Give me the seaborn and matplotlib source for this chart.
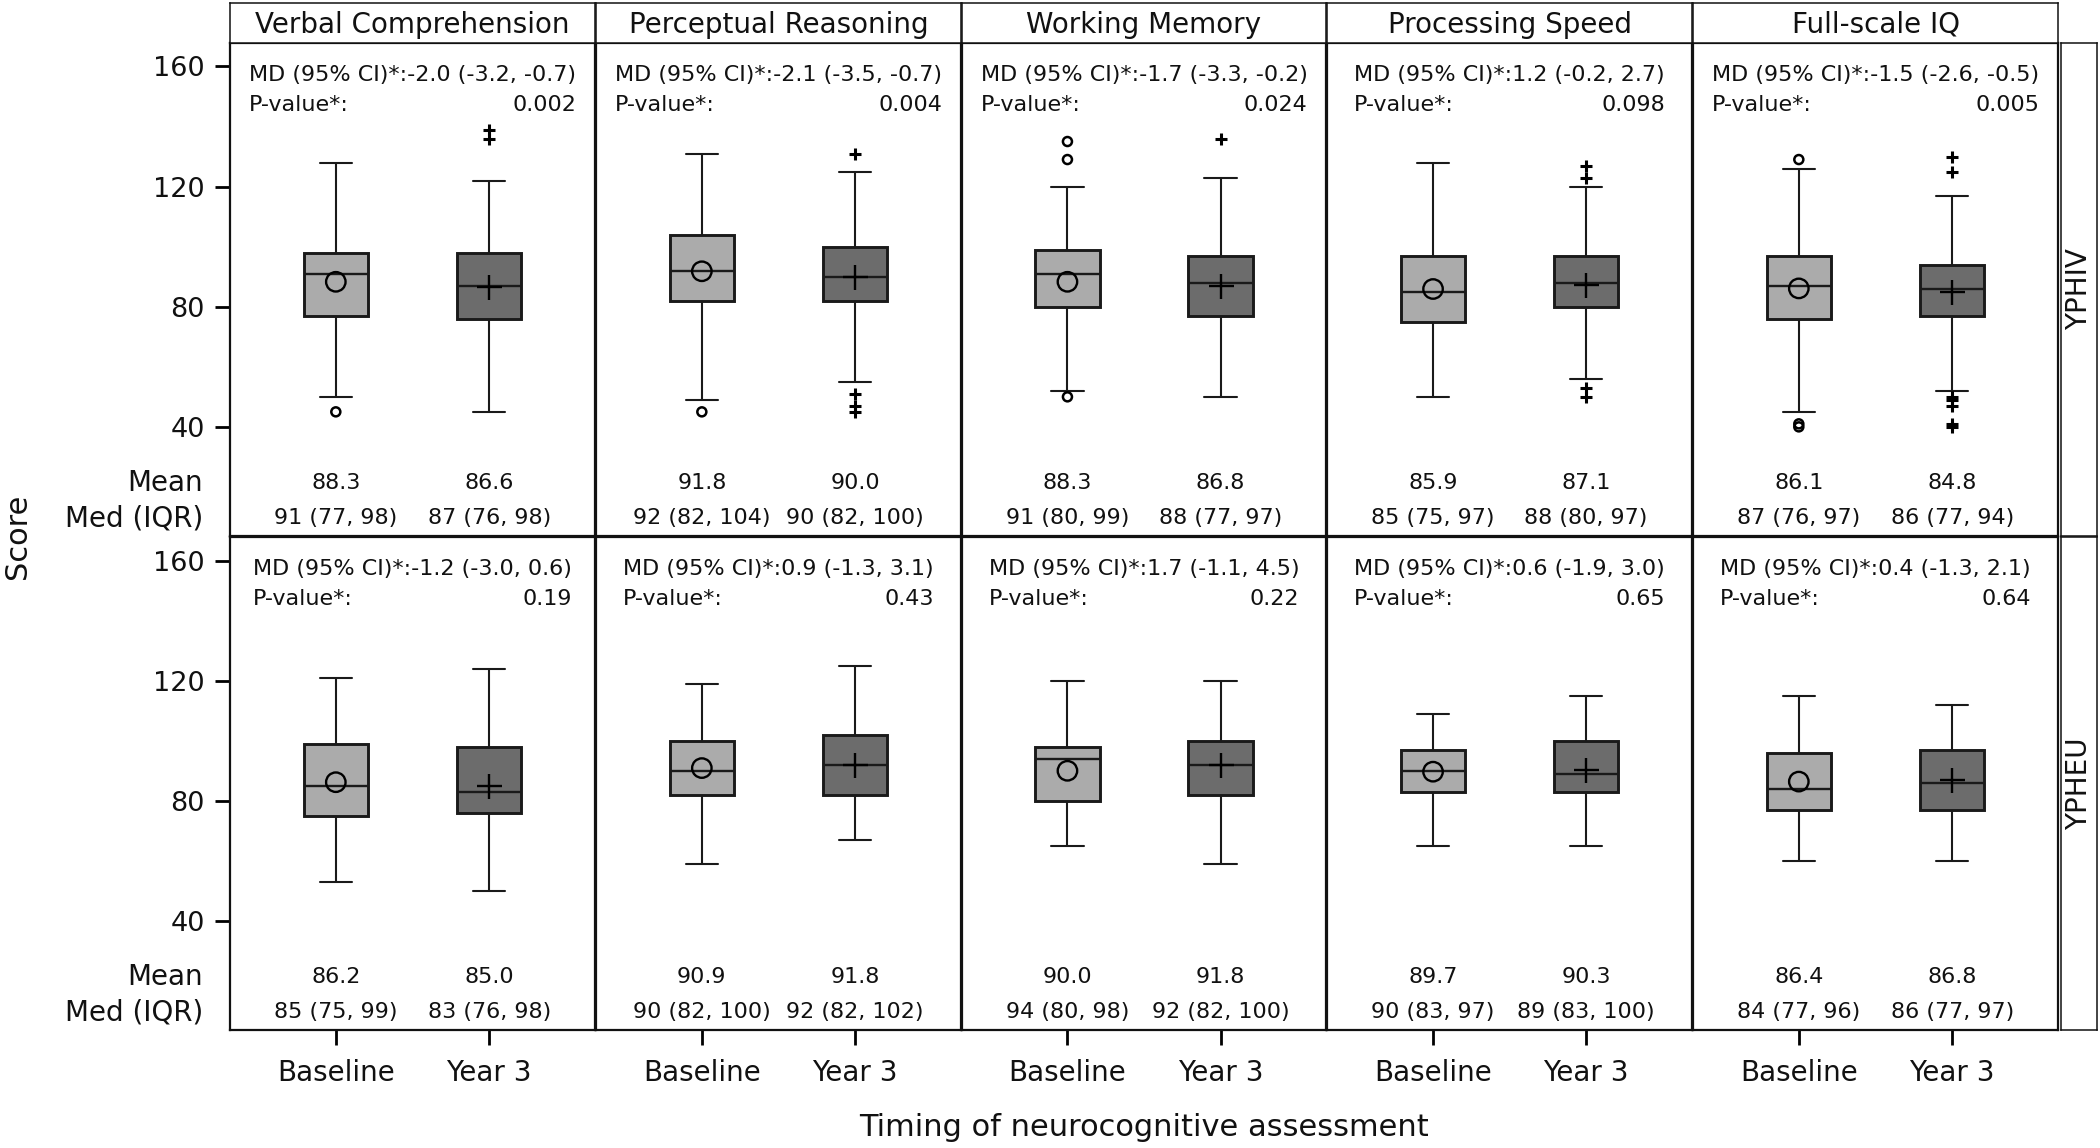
import numpy as np
import pandas as pd
import matplotlib
matplotlib.use("Agg")
import matplotlib.pyplot as plt
import seaborn as sns
from matplotlib.transforms import blended_transform_factory

# ---------------- data ----------------
domains = ["Verbal Comprehension", "Perceptual Reasoning", "Working Memory",
           "Processing Speed", "Full-scale IQ"]
groups = ["YPHIV", "YPHEU"]
timepoints = ["Baseline", "Year 3"]

# five-number summaries: [lower whisker, Q1, median, Q3, upper whisker]
yphiv_baseline_box = [[50, 77, 91, 98, 128], [49, 82, 92, 104, 131], [52, 80, 91, 99, 120],
                      [50, 75, 85, 97, 128], [45, 76, 87, 97, 126]]
yphiv_year3_box = [[45, 76, 87, 98, 122], [55, 82, 90, 100, 125], [50, 77, 88, 97, 123],
                   [56, 80, 88, 97, 120], [52, 77, 86, 94, 117]]
ypheu_baseline_box = [[53, 75, 85, 99, 121], [59, 82, 90, 100, 119], [65, 80, 94, 98, 120],
                      [65, 83, 90, 97, 109], [60, 77, 84, 96, 115]]
ypheu_year3_box = [[50, 76, 83, 98, 124], [67, 82, 92, 102, 125], [59, 82, 92, 100, 120],
                   [65, 83, 89, 100, 115], [60, 77, 86, 97, 112]]

yphiv_baseline_mean = [88.3, 91.8, 88.3, 85.9, 86.1]
yphiv_year3_mean = [86.6, 90.0, 86.8, 87.1, 84.8]
ypheu_baseline_mean = [86.2, 90.9, 90.0, 89.7, 86.4]
ypheu_year3_mean = [85.0, 91.8, 91.8, 90.3, 86.8]

yphiv_baseline_outliers = [[45], [45], [50, 129, 135], [], [41, 40, 129]]
yphiv_year3_outliers = [[136, 139], [131, 51, 47, 45], [136], [123, 127, 53, 50],
                        [125, 130, 50, 49, 47, 41, 40]]
ypheu_baseline_outliers = [[], [], [], [], []]
ypheu_year3_outliers = [[], [], [], [], []]

yphiv_md = ["-2.0 (-3.2, -0.7)", "-2.1 (-3.5, -0.7)", "-1.7 (-3.3, -0.2)",
            "1.2 (-0.2, 2.7)", "-1.5 (-2.6, -0.5)"]
yphiv_p = ["0.002", "0.004", "0.024", "0.098", "0.005"]
ypheu_md = ["-1.2 (-3.0, 0.6)", "0.9 (-1.3, 3.1)", "1.7 (-1.1, 4.5)",
            "0.6 (-1.9, 3.0)", "0.4 (-1.3, 2.1)"]
ypheu_p = ["0.19", "0.43", "0.22", "0.65", "0.64"]

y_ticks = [40, 80, 120, 160]

# ---------------- tables ----------------
boxes = {("YPHIV", "Baseline"): yphiv_baseline_box, ("YPHIV", "Year 3"): yphiv_year3_box,
         ("YPHEU", "Baseline"): ypheu_baseline_box, ("YPHEU", "Year 3"): ypheu_year3_box}
means = {("YPHIV", "Baseline"): yphiv_baseline_mean, ("YPHIV", "Year 3"): yphiv_year3_mean,
         ("YPHEU", "Baseline"): ypheu_baseline_mean, ("YPHEU", "Year 3"): ypheu_year3_mean}
outs = {("YPHIV", "Baseline"): yphiv_baseline_outliers, ("YPHIV", "Year 3"): yphiv_year3_outliers,
        ("YPHEU", "Baseline"): ypheu_baseline_outliers, ("YPHEU", "Year 3"): ypheu_year3_outliers}
mds = {"YPHIV": yphiv_md, "YPHEU": ypheu_md}
pvals = {"YPHIV": yphiv_p, "YPHEU": ypheu_p}

box_rows, mean_rows, out_rows = [], [], []
for (g, t), lst in boxes.items():
    for d, five in zip(domains, lst):
        for v in five:
            box_rows.append(dict(group=g, domain=d, time=t, value=v))
for (g, t), lst in means.items():
    for d, m in zip(domains, lst):
        mean_rows.append(dict(group=g, domain=d, time=t, value=m))
for (g, t), lst in outs.items():
    for d, o in zip(domains, lst):
        for v in o:
            out_rows.append(dict(group=g, domain=d, time=t, value=v))
box_df = pd.DataFrame(box_rows)
mean_df = pd.DataFrame(mean_rows)
out_df = pd.DataFrame(out_rows)

# ---------------- style ----------------
sns.set_style("ticks")
plt.rcParams["font.family"] = ["DejaVu Sans"]
plt.rcParams["axes.edgecolor"] = "#111111"
plt.rcParams["xtick.bottom"] = True
plt.rcParams["ytick.left"] = True
palette = {"Baseline": "#ABABAB", "Year 3": "#6C6C6C"}
LINE = "#1a1a1a"
TXT = "#111111"

W, H = 2100, 1148
fig = plt.figure(figsize=(W / 100, H / 100), dpi=100)


def rect(x0, y0, x1, y1):
    return [x0 / W, 1 - y1 / H, (x1 - x0) / W, (y1 - y0) / H]


col_edges = np.linspace(230, 2058, 6)
row_edges = [43, 536.5, 1030]
YLIM = (3.7, 167.8)
XLIM = (-0.69, 1.69)


def draw_points(ax, df, time, marker, size, lw, hollow):
    sub = df[df["time"] == time]
    if len(sub) == 0:
        return
    n0 = len(ax.collections)
    sns.stripplot(data=sub, x="time", y="value", order=timepoints, jitter=False,
                  marker=marker, size=size, color="black", linewidth=lw, ax=ax, zorder=5)
    for coll in ax.collections[n0:]:
        coll.set_facecolor("none" if hollow else "black")
        coll.set_edgecolor("black")
        coll.set_linewidth(lw)


md_texts = []
for r, g in enumerate(groups):
    for c, d in enumerate(domains):
        x0 = col_edges[c] + (0.6 if c > 0 else 0)
        x1 = col_edges[c + 1] - (0.6 if c < 4 else 0)
        y0 = row_edges[r] + (0.6 if r > 0 else 0)
        y1 = row_edges[r + 1] - (0.6 if r < 1 else 0)
        ax = fig.add_axes(rect(x0, y0, x1, y1))
        sub = box_df[(box_df.group == g) & (box_df.domain == d)]
        sns.boxplot(data=sub, x="time", y="value", hue="time", order=timepoints,
                    hue_order=timepoints, palette=palette, width=0.42, whis=(0, 100),
                    linewidth=1.5, linecolor=LINE, showfliers=False, legend=False, ax=ax,
                    boxprops=dict(linewidth=2.1), medianprops=dict(linewidth=1.7))
        osub = out_df[(out_df.group == g) & (out_df.domain == d)] if len(out_df) else out_df
        draw_points(ax, osub, "Baseline", "o", 6.5, 1.8, True)
        draw_points(ax, osub, "Year 3", "+", 8, 2.2, False)
        msub = mean_df[(mean_df.group == g) & (mean_df.domain == d)]
        draw_points(ax, msub, "Baseline", "o", 14, 1.7, True)
        draw_points(ax, msub, "Year 3", "+", 18, 1.7, False)

        ax.set_xlim(*XLIM)
        ax.set_ylim(*YLIM)
        ax.set_xlabel("")
        ax.set_ylabel("")
        for s in ax.spines.values():
            s.set_visible(True)
            s.set_linewidth(1.6)
            s.set_color(TXT)
        ax.set_yticks(y_ticks)
        if c == 0:
            ax.tick_params(axis="y", which="major", left=True, labelleft=True,
                           direction="out", length=11, width=2.0, labelsize=19.5,
                           pad=7, color="black", labelcolor=TXT)
        else:
            ax.tick_params(axis="y", left=False, labelleft=False)
        if r == 1:
            ax.tick_params(axis="x", which="major", bottom=True, labelbottom=True,
                           direction="out", length=11, width=2.0, labelsize=20,
                           pad=10, color="black", labelcolor=TXT)
        else:
            ax.tick_params(axis="x", bottom=False, labelbottom=False)

        trans = blended_transform_factory(ax.transData, ax.transAxes)
        for i, t in enumerate(timepoints):
            five = boxes[(g, t)][c]
            m = means[(g, t)][c]
            ax.text(i, 0.108, f"{m:.1f}", transform=trans, ha="center", va="center",
                    fontsize=16, color=TXT)
            ax.text(i, 0.036, f"{five[2]} ({five[1]}, {five[3]})", transform=trans,
                    ha="center", va="center", fontsize=16, color=TXT)
        tmd = ax.text(0.5, 0.935, f"MD (95% CI)*:{mds[g][c]}", transform=ax.transAxes,
                      ha="center", va="center", fontsize=16, color=TXT)
        md_texts.append((ax, tmd, pvals[g][c]))

        if c == 0:
            ax.text(-0.074, 0.108, "Mean", transform=ax.transAxes, ha="right",
                    va="center", fontsize=20, color=TXT)
            ax.text(-0.074, 0.036, "Med (IQR)", transform=ax.transAxes, ha="right",
                    va="center", fontsize=20, color=TXT)

# P-value lines aligned to the MD line extents
fig.canvas.draw()
renderer = fig.canvas.get_renderer()
for ax, tmd, p in md_texts:
    bb = tmd.get_window_extent(renderer)
    inv = ax.transAxes.inverted()
    xl = inv.transform((bb.x0, bb.y0))[0]
    xr = inv.transform((bb.x1, bb.y0))[0]
    ax.text(xl, 0.875, "P-value*:", transform=ax.transAxes, ha="left", va="center",
            fontsize=16, color=TXT)
    ax.text(xr, 0.875, p, transform=ax.transAxes, ha="right", va="center",
            fontsize=16, color=TXT)

# column header strips
for c, d in enumerate(domains):
    x0 = col_edges[c] + (0.6 if c > 0 else 0)
    x1 = col_edges[c + 1] - (0.6 if c < 4 else 0)
    sax = fig.add_axes(rect(x0, 3, x1, 43))
    sax.set_xticks([])
    sax.set_yticks([])
    for s in sax.spines.values():
        s.set_visible(True)
        s.set_linewidth(1.1)
        s.set_color(TXT)
    sax.text(0.5, 0.45, d, transform=sax.transAxes, ha="center", va="center",
             fontsize=20, color=TXT)

# row header strips
for r, g in enumerate(groups):
    y0 = row_edges[r] + (0.6 if r > 0 else 0)
    y1 = row_edges[r + 1] - (0.6 if r < 1 else 0)
    rax = fig.add_axes(rect(2061, y0, 2097, y1))
    rax.set_xticks([])
    rax.set_yticks([])
    for s in rax.spines.values():
        s.set_visible(True)
        s.set_linewidth(1.1)
        s.set_color(TXT)
    rax.text(0.5, 0.5, g, transform=rax.transAxes, ha="center", va="center",
             rotation=90, fontsize=20, color=TXT)

fig.text(1144 / W, 1 - 1128 / H, "Timing of neurocognitive assessment", ha="center",
         va="center", fontsize=22, color=TXT)
fig.text(17 / W, 1 - 536 / H, "Score", ha="center", va="center", rotation=90,
         fontsize=22, color=TXT)

fig.savefig("out.png", dpi=100)
